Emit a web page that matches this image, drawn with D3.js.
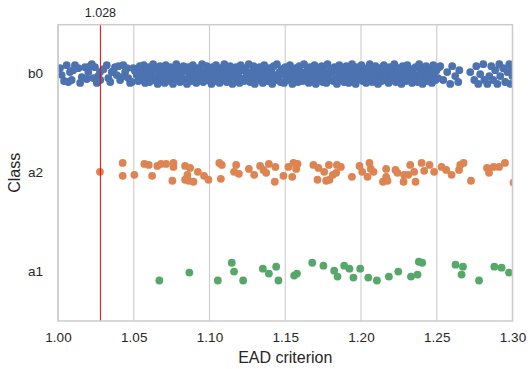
<!DOCTYPE html>
<html>
<head>
<meta charset="utf-8">
<script src="https://cdn.jsdelivr.net/npm/d3@7/dist/d3.min.js"></script>
<style>
html,body{margin:0;padding:0;background:#fff;}
text{font-family:"Liberation Sans",Arial,sans-serif;fill:#262626;}
</style>
</head>
<body>
<svg id="chart" width="528" height="369"></svg>
<script>
// ---- data ----
const categories = ["b0", "a2", "a1"];
const xTicks = [1.00, 1.05, 1.10, 1.15, 1.20, 1.25, 1.30];
const xDomain = [1.00, 1.30];
const threshold = 1.028;
const thresholdLabel = "1.028";
const xLabel = "EAD criterion";
const yLabel = "Class";

// [EAD criterion, jitter offset (fraction of category band)]
const b0Points = [
[1.0013,-.06],[1.0024,.01],[1.0040,.07],[1.0057,-.09],[1.0068,.08],[1.0079,-.02],[1.0090,.06],[1.0100,-.04],
[1.0112,-.09],[1.0134,-.06],[1.0146,.09],[1.0157,.03],[1.0178,-.07],[1.0190,.05],[1.0200,-.02],[1.0212,-.08],
[1.0223,-.10],[1.0233,.04],[1.0244,-.07],[1.0256,.09],[1.0265,.02],[1.0277,-.02],[1.0279,.06],[1.0300,-.05],
[1.0322,-.09],[1.0332,.04],[1.0345,.08],[1.0355,-.02],[1.0365,-.03],[1.0376,-.07],[1.0388,.01],[1.0400,-.08],
[1.0410,.06],[1.0420,.03],[1.0431,-.09],[1.0443,-.02],[1.0455,-.06],[1.0464,.04],[1.0476,.09],[1.0487,.08],
[1.0497,-.06],[1.0508,-.03],[1.0520,.01],[1.0530,.07],[1.0540,-.08],
[1.0545,.06],[1.0552,-.05],[1.0560,.02],[1.0566,-.09],[1.0575,.09],[1.0581,-.02],[1.0590,.04],[1.0597,-.07],
[1.0604,.08],[1.0612,-.04],[1.0619,.00],[1.0628,-.10],[1.0634,.06],[1.0643,-.06],[1.0650,.03],[1.0658,.10],
[1.0665,-.03],[1.0673,-.08],[1.0681,.05],[1.0688,.01],[1.0697,-.05],[1.0704,.09],[1.0711,-.09],[1.0720,.03],
[1.0727,-.01],[1.0735,.07],[1.0743,-.07],[1.0750,.00],[1.0759,.10],[1.0766,-.04],[1.0774,.05],[1.0781,-.10],
[1.0790,.02],[1.0797,-.06],[1.0805,.08],[1.0812,-.02],[1.0821,.04],[1.0828,-.08],[1.0836,.06],[1.0844,-.03],
[1.0851,.10],[1.0859,-.07],[1.0867,.01],[1.0874,-.05],[1.0882,.07],[1.0890,-.09],[1.0897,.03],[1.0905,-.01],
[1.0913,.09],[1.0920,-.06],[1.0928,.05],[1.0935,-.04],[1.0944,.00],[1.0951,-.10],[1.0959,.08],[1.0966,-.02],
[1.0975,.04],[1.0982,-.08],[1.0990,.06],[1.0997,-.05],[1.1005,.02],[1.1013,.10],[1.1020,-.07],[1.1028,-.01],
[1.1036,.07],[1.1043,-.09],[1.1051,.03],[1.1058,-.04],[1.1067,.09],[1.1074,-.06],[1.1082,.01],[1.1089,.05],
[1.1098,-.10],[1.1105,-.02],[1.1113,.08],[1.1120,-.05],[1.1129,.04],[1.1136,-.08],[1.1144,.00],[1.1151,.10],
[1.1160,-.03],[1.1167,.06],[1.1175,-.07],[1.1182,.02],[1.1191,-.01],[1.1198,.09],[1.1206,-.09],[1.1214,.05],
[1.1221,-.04],[1.1229,.07],[1.1237,-.06],[1.1244,.01],[1.1252,.03],[1.1259,-.10],[1.1268,.08],[1.1275,-.02],
[1.1283,.04],[1.1290,-.08],[1.1299,.10],[1.1306,-.05],[1.1314,.00],[1.1321,.06],[1.1330,-.07],[1.1337,.02],
[1.1345,-.03],[1.1352,.09],[1.1361,-.09],[1.1368,.05],[1.1376,-.01],[1.1383,.07],[1.1392,-.06],[1.1399,.03],
[1.1407,-.04],[1.1414,.10],[1.1423,-.08],[1.1430,.01],[1.1438,.06],[1.1445,-.10],[1.1454,.04],[1.1461,-.02],
[1.1469,.08],[1.1476,-.05],[1.1485,.00],[1.1492,.09],[1.1500,-.07],[1.1507,.03],[1.1516,-.03],[1.1523,.06],
[1.1531,-.09],[1.1538,.02],[1.1547,.10],[1.1554,-.04],[1.1562,.05],[1.1569,-.06],[1.1578,-.01],[1.1585,.08],
[1.1593,-.08],[1.1600,.03],[1.1609,-.02],[1.1616,.07],[1.1624,-.10],[1.1631,.04],[1.1640,.00],[1.1647,-.05],
[1.1655,.09],[1.1662,-.07],[1.1671,.01],[1.1678,.06],[1.1686,-.03],[1.1693,-.09],[1.1702,.10],[1.1709,.02],
[1.1717,-.06],[1.1724,.05],[1.1733,-.01],[1.1740,-.08],[1.1748,.08],[1.1755,-.04],[1.1764,.03],[1.1771,.09],
[1.1779,-.10],[1.1786,.00],[1.1795,.06],[1.1802,-.05],[1.1810,-.02],[1.1817,.07],[1.1826,-.07],[1.1833,.04],
[1.1841,.10],[1.1848,-.03],[1.1857,-.09],[1.1864,.01],[1.1872,.05],[1.1879,-.06],[1.1888,.08],[1.1895,-.01],
[1.1903,-.08],[1.1910,.03],[1.1919,.09],[1.1926,-.04],[1.1934,.00],[1.1941,-.10],[1.1950,.06],[1.1957,-.02],
[1.1965,.10],[1.1972,-.07],[1.1981,.02],[1.1988,.05],[1.1996,-.05],[1.2003,-.09],[1.2012,.07],[1.2019,.00],
[1.2027,-.03],[1.2034,.09],[1.2043,-.06],[1.2050,.04],[1.2058,-.10],[1.2065,.01],[1.2074,.08],[1.2081,-.04],
[1.2089,.05],[1.2096,-.08],[1.2105,-.01],[1.2112,.10],[1.2120,-.06],[1.2127,.03],[1.2136,.07],[1.2143,-.02],
[1.2151,-.09],[1.2158,.06],[1.2167,.00],[1.2174,-.05],[1.2182,.09],[1.2189,-.07],[1.2198,.02],[1.2205,.04],
[1.2213,-.03],[1.2220,-.10],[1.2229,.08],[1.2236,.01],[1.2244,-.06],[1.2251,.05],[1.2260,-.02],[1.2267,.10],
[1.2275,-.08],[1.2282,.03],[1.2291,-.04],[1.2298,.07],[1.2306,-.09],[1.2313,.00],[1.2322,.06],[1.2329,-.05],
[1.2337,.09],[1.2344,-.01],[1.2353,.04],[1.2360,-.07],[1.2368,.02],[1.2375,.08],[1.2384,-.10],[1.2391,-.03],
[1.2399,.05],[1.2406,.10],[1.2415,-.06],[1.2422,.01],[1.2430,-.08],[1.2437,.07],[1.2446,-.02],[1.2453,.03],
[1.2461,-.05],[1.2468,.09],[1.2477,-.09],[1.2484,.00],[1.2492,.06],[1.2499,-.04],[1.2508,.04],[1.2515,-.07],
[1.2523,-.08],[1.2543,.06],[1.2569,-.02],[1.2589,.10],[1.2602,-.08],[1.2622,.02],[1.2642,.08],[1.2649,-.04],
[1.2721,-.02],[1.2748,.06],[1.2761,-.08],[1.2774,.10],[1.2787,.00],[1.2807,-.10],[1.2814,.06],[1.2834,.10],
[1.2847,.02],[1.2860,-.08],[1.2873,.06],[1.2886,-.04],[1.2900,.10],[1.2913,-.10],[1.2919,.02],[1.2939,-.06],
[1.2952,.08],[1.2966,-.02],[1.2979,-.10],[1.2985,.10],[1.2992,-.04],[1.2999,.02]
];

const a2Points = [
[1.0277,-.01],[1.0427,-.10],[1.0427,.03],[1.0504,.02],[1.0570,-.09],[1.0599,-.08],[1.0621,.03],[1.0656,-.07],
[1.0680,-.09],[1.0713,-.09],[1.0762,-.10],[1.0762,-.06],[1.0755,.08],[1.0839,-.07],[1.0872,-.05],[1.0854,.02],
[1.0839,.07],[1.0863,.08],[1.0894,.09],[1.0923,-.01],[1.0964,.03],[1.0993,.07],[1.1065,-.10],[1.1081,-.08],
[1.1075,.06],[1.1176,-.08],[1.1162,-.01],[1.1194,.01],[1.1260,-.04],[1.1295,.02],[1.1334,-.07],[1.1356,-.03],
[1.1392,-.09],[1.1374,.00],[1.1435,-.06],[1.1431,.09],[1.1488,.03],[1.1521,-.06],[1.1554,-.10],[1.1581,-.09],
[1.1572,-.04],[1.1546,.04],[1.1686,-.08],[1.1719,-.05],[1.1757,-.01],[1.1788,-.08],[1.1841,-.08],[1.1867,-.06],
[1.1814,.02],[1.1836,.00],[1.1713,.07],[1.1770,.08],[1.1792,.07],[1.1940,.04],[1.1990,-.07],[1.2008,-.01],
[1.2056,-.10],[1.2065,-.04],[1.2083,-.01],[1.2043,.04],[1.2166,-.04],[1.2145,.09],[1.2175,.08],[1.2166,.04],
[1.2228,-.03],[1.2241,.00],[1.2285,.02],[1.2312,.02],[1.2325,-.08],[1.2351,-.01],[1.2281,.09],[1.2360,.09],
[1.2400,-.10],[1.2417,-.02],[1.2452,-.08],[1.2483,-.01],[1.2532,-.06],[1.2563,-.03],[1.2598,.02],[1.2647,-.03],
[1.2655,-.08],[1.2677,-.10],[1.2726,.08],[1.2832,-.05],[1.2845,.00],[1.2875,-.06],[1.2911,-.06],[1.2950,-.10],
[1.3007,.10]
];

const a1Points = [
[1.0669,.09],[1.0867,.01],[1.1055,.09],[1.1147,-.09],[1.1162,.00],[1.1222,.09],[1.1352,-.03],[1.1392,.02],
[1.1440,-.05],[1.1455,.09],[1.1559,.04],[1.1577,.02],[1.1678,-.09],[1.1752,-.06],[1.1823,-.01],[1.1845,.05],
[1.1889,-.06],[1.1924,-.03],[1.1950,.06],[1.1995,-.03],[1.2048,.06],[1.2105,.09],[1.2184,.05],[1.2246,.00],
[1.2330,.05],[1.2373,.03],[1.2382,-.10],[1.2404,-.09],[1.2624,-.07],[1.2673,-.05],[1.2664,.03],[1.2779,.09],
[1.2880,-.05],[1.2928,-.04],[1.2977,.01]
];

const seriesColors = {b0: "#4c72b0", a2: "#dd8452", a1: "#55a868"};

// ---- layout ----
const W = 528, H = 369;
const margin = {left: 58, right: 15.5, top: 24.7, bottom: 48};
const iw = W - margin.left - margin.right;
const ih = H - margin.top - margin.bottom;

const svg = d3.select("#chart");
const g = svg.append("g").attr("transform", `translate(${margin.left},${margin.top})`);

const x = d3.scaleLinear().domain(xDomain).range([0, iw]);
const y = d3.scaleBand().domain(categories).range([0, ih]).padding(0);

g.append("defs").append("clipPath").attr("id", "clip")
  .append("rect").attr("width", iw).attr("height", ih);

// grid
g.append("g").selectAll("line").data(xTicks).join("line")
  .attr("x1", d => x(d)).attr("x2", d => x(d))
  .attr("y1", 0).attr("y2", ih)
  .attr("stroke", "#cccccc").attr("stroke-width", 1.1);

// points
const series = [["b0", b0Points], ["a2", a2Points], ["a1", a1Points]];
const pts = g.append("g").attr("clip-path", "url(#clip)");
series.forEach(([cat, arr]) => {
  pts.append("g").selectAll("circle").data(arr).join("circle")
    .attr("cx", d => x(d[0]))
    .attr("cy", d => y(cat) + y.bandwidth() / 2 + d[1] * y.bandwidth())
    .attr("r", 3.9)
    .attr("fill", seriesColors[cat]);
});

// threshold line
g.append("line")
  .attr("x1", x(threshold)).attr("x2", x(threshold))
  .attr("y1", 0).attr("y2", ih)
  .attr("stroke", "red").attr("stroke-width", 1);
g.append("text")
  .attr("x", x(threshold)).attr("y", -8)
  .attr("text-anchor", "middle")
  .style("font-size", "12.5px")
  .text(thresholdLabel);

// frame
g.append("rect").attr("width", iw).attr("height", ih)
  .attr("fill", "none").attr("stroke", "#cccccc").attr("stroke-width", 1.5);

// x axis
const xAxis = d3.axisBottom(x).tickValues(xTicks).tickFormat(d3.format(".2f")).tickSize(0).tickPadding(11);
const xa = g.append("g").attr("transform", `translate(0,${ih})`).call(xAxis);
xa.select(".domain").remove();
xa.selectAll("text").style("font-size", "13.5px").attr("fill", "#262626");

// y axis
const yAxis = d3.axisLeft(y).tickSize(0).tickPadding(15);
const ya = g.append("g").call(yAxis);
ya.select(".domain").remove();
ya.selectAll("text").style("font-size", "13.5px").attr("fill", "#262626");

// labels
svg.append("text")
  .attr("x", margin.left + iw / 2).attr("y", 363)
  .attr("text-anchor", "middle")
  .style("font-size", "16px")
  .text(xLabel);
svg.append("text")
  .attr("transform", `translate(20,${margin.top + ih / 2}) rotate(-90)`)
  .attr("text-anchor", "middle")
  .style("font-size", "16px")
  .text(yLabel);
</script>
</body>
</html>
